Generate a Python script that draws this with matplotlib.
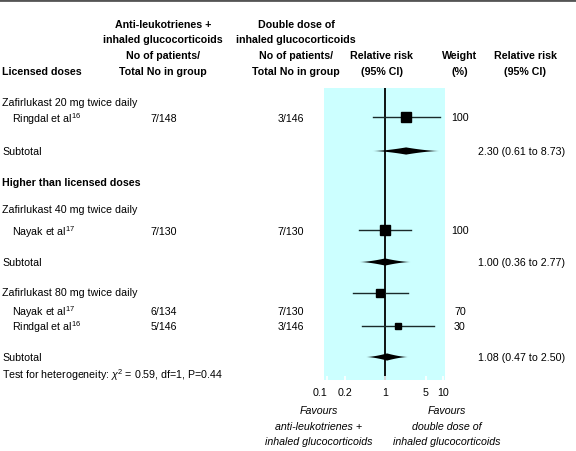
import numpy as np
import matplotlib
matplotlib.use("Agg")
import matplotlib.pyplot as plt
import matplotlib.transforms as mtransforms
from matplotlib.lines import Line2D
from matplotlib.patches import Polygon
from matplotlib.ticker import NullLocator

plt.rcParams['font.family'] = ['Liberation Sans', 'DejaVu Sans']
plt.rcParams['font.size'] = 7.7
plt.rcParams['mathtext.fontset'] = 'custom'
plt.rcParams['mathtext.rm'] = 'Liberation Sans'
plt.rcParams['mathtext.it'] = 'Liberation Sans:italic'
plt.rcParams['mathtext.bf'] = 'Liberation Sans:bold'

# studies
study_names = ["Ringdal et al$^{16}$", "Nayak et al$^{17}$", "Nayak et al$^{17}$", "Rindgal et al$^{16}$"]
treat_counts = ["7/148", "7/130", "6/134", "5/146"]
control_counts = ["3/146", "7/130", "7/130", "3/146"]
study_rr = [2.30, 1.00, 0.83, 1.67]
study_lo = [0.61, 0.36, 0.28, 0.40]
study_hi = [8.73, 2.77, 2.45, 6.90]
study_weight = [100, 100, 70, 30]

# subtotals
group_titles = ["Zafirlukast 20 mg twice daily", "Zafirlukast 40 mg twice daily",
                "Zafirlukast 80 mg twice daily"]
sub_rr = [2.30, 1.00, 1.08]
sub_lo = [0.61, 0.36, 0.47]
sub_hi = [8.73, 2.77, 2.50]

tick_values = [0.1, 0.2, 1, 5, 10]
tick_labels = ["0.1", "0.2", "1", "5", "10"]

# layout (pixel rows from the top)
W, H = 576, 452
study_text_y = [119, 232, 312, 327]
study_mark_y = [118, 231, 294, 327]
group_y = [103, 210, 293]
sub_y = [152, 263, 358]


def diamond(ax, lo, est, hi, y, h=3.6):
    # flat diamond with concave sides, in log space
    t = np.linspace(0, 1, 30)
    left_x = lo * (est / lo) ** t
    right_x = hi * (est / hi) ** t
    hh = h * t ** 1.6
    xs = np.concatenate([left_x, right_x[::-1], right_x, left_x[::-1]])
    ys = np.concatenate([y - hh, y - hh[::-1], y + hh, y + hh[::-1]])
    ax.add_patch(Polygon(np.column_stack([xs, ys]), closed=True,
                         facecolor='black', edgecolor='none'))


def main():
    fig = plt.figure(figsize=(W / 100, H / 100), dpi=100)
    ax = fig.add_axes([324 / W, 1 - 381 / H, 121 / W, (381 - 89) / H])
    ax.set_xscale('log')
    ax.set_xlim(0.088, 10.8)
    ax.set_ylim(381, 89)
    ax.set_facecolor('#ccffff')
    for s in ax.spines.values():
        s.set_visible(False)
    ax.set_yticks([])
    ax.set_xticks(tick_values, tick_labels)
    ax.xaxis.set_minor_locator(NullLocator())
    ax.tick_params(axis='x', direction='in', length=3, width=1.2, color='white', pad=5, labelsize=7.7)
    ax.get_xticklabels()[0].set_ha('right')
    ax.axvline(1, color='black', lw=1.3, zorder=1)

    # study estimates
    for i in range(len(study_rr)):
        y = study_mark_y[i]
        ax.plot([study_lo[i], study_hi[i]], [y, y], color='#1a2a2a', lw=1, zorder=2)
        ax.plot(study_rr[i], y, marker='s', color='black',
                markersize=np.sqrt(study_weight[i]) * 0.72, zorder=3)
    for i in range(len(sub_rr)):
        diamond(ax, sub_lo[i], sub_rr[i], sub_hi[i], sub_y[i])

    tr = mtransforms.blended_transform_factory(fig.transFigure, ax.transData)

    def txt(x, y, s, **kw):
        ax.text(x / W, y, s, transform=tr, va='center', **kw)

    # header
    txt(163, 25, "Anti-leukotrienes +", ha='center', weight='bold')
    txt(163, 40, "inhaled glucocorticoids", ha='center', weight='bold')
    txt(163, 56, "No of patients/", ha='center', weight='bold')
    txt(163, 72, "Total No in group", ha='center', weight='bold')
    txt(296, 25, "Double dose of", ha='center', weight='bold')
    txt(296, 40, "inhaled glucocorticoids", ha='center', weight='bold')
    txt(296, 56, "No of patients/", ha='center', weight='bold')
    txt(296, 72, "Total No in group", ha='center', weight='bold')
    txt(382, 56, "Relative risk", ha='center', weight='bold')
    txt(382, 72, "(95% CI)", ha='center', weight='bold')
    txt(460, 56, "Weight", ha='center', weight='bold')
    txt(460, 72, "(%)", ha='center', weight='bold')
    txt(525, 56, "Relative risk", ha='center', weight='bold')
    txt(525, 72, "(95% CI)", ha='center', weight='bold')
    txt(2, 72, "Licensed doses", ha='left', weight='bold')
    txt(2, 183, "Higher than licensed doses", ha='left', weight='bold')

    # rows
    for i in range(len(group_titles)):
        txt(2, group_y[i], group_titles[i], ha='left')
        txt(2, sub_y[i], "Subtotal", ha='left')
        txt(478, sub_y[i], f"{sub_rr[i]:.2f} ({sub_lo[i]:.2f} to {sub_hi[i]:.2f})", ha='left')
    for i in range(len(study_names)):
        y = study_text_y[i]
        txt(12, y, study_names[i], ha='left')
        txt(164, y, treat_counts[i], ha='center')
        txt(291, y, control_counts[i], ha='center')
        txt(460, study_mark_y[i] if i != 2 else y, str(study_weight[i]), ha='center')

    txt(2, 375, r"Test for heterogeneity: $\chi^2$ = 0.59, df=1, P=0.44", ha='left')

    # favours
    txt(319, 411, "Favours", ha='center', style='italic')
    txt(319, 427, "anti-leukotrienes +", ha='center', style='italic')
    txt(319, 442, "inhaled glucocorticoids", ha='center', style='italic')
    txt(447, 411, "Favours", ha='center', style='italic')
    txt(447, 427, "double dose of", ha='center', style='italic')
    txt(447, 442, "inhaled glucocorticoids", ha='center', style='italic')

    fig.add_artist(Line2D([0, 1], [1 - 1 / H, 1 - 1 / H], transform=fig.transFigure,
                          color='#555555', lw=2))

    plt.savefig("out.png", dpi=100)
    return 0


if __name__ == '__main__':
    main()
